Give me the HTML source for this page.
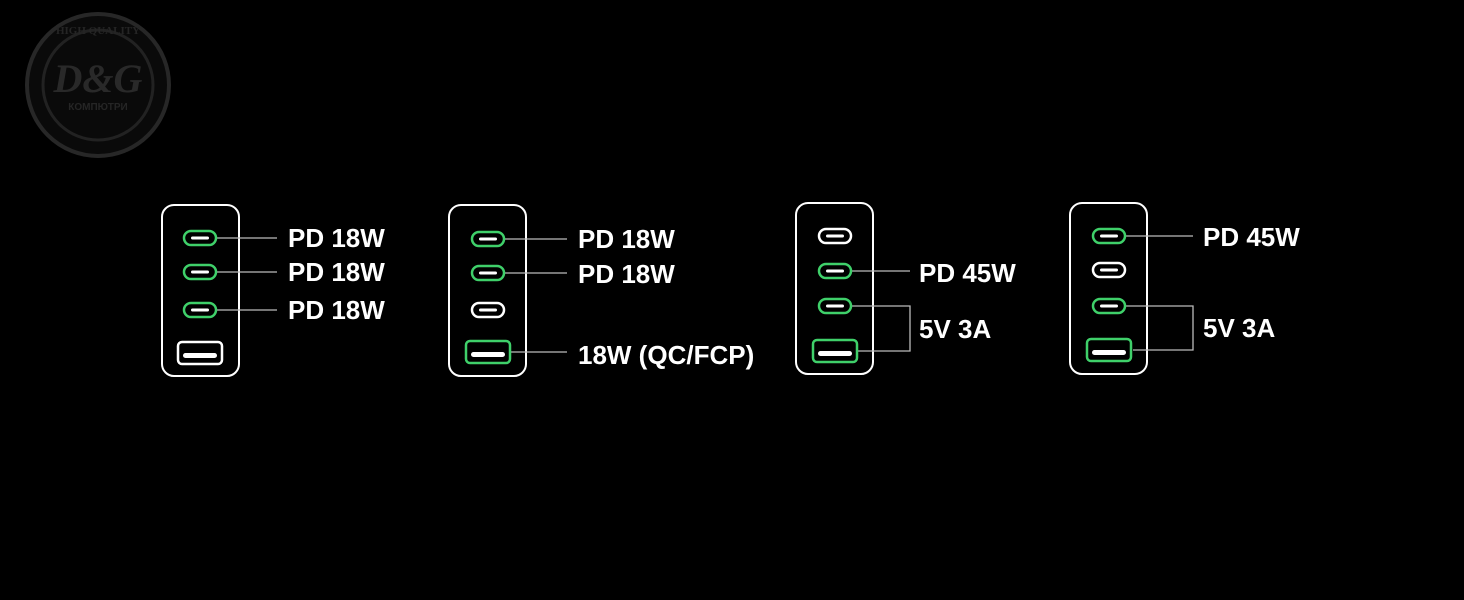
<!DOCTYPE html>
<html><head><meta charset="utf-8"><style>
html,body{margin:0;padding:0;background:#000;}
svg{display:block;}
text{font-family:"Liberation Sans",sans-serif;font-weight:bold;fill:#fff;font-size:26px;}
</style></head><body>
<svg width="1464" height="600" viewBox="0 0 1464 600" xmlns="http://www.w3.org/2000/svg">
<defs>
<g id="cg"><rect x="-16" y="-7" width="32" height="14" rx="7" fill="none" stroke="#3fd06a" stroke-width="2.5"/><rect x="-9" y="-1.5" width="18" height="3" rx="1.5" fill="#fff"/></g>
<g id="cw"><rect x="-16" y="-7" width="32" height="14" rx="7" fill="none" stroke="#fff" stroke-width="2.5"/><rect x="-9" y="-1.5" width="18" height="3" rx="1.5" fill="#fff"/></g>
<g id="ag"><rect x="-22" y="-11" width="44" height="22" rx="4" fill="none" stroke="#3fd06a" stroke-width="2.5"/><rect x="-17" y="0" width="34" height="5" rx="2.5" fill="#fff"/></g>
<g id="aw"><rect x="-22" y="-11" width="44" height="22" rx="4" fill="none" stroke="#fff" stroke-width="2.5"/><rect x="-17" y="0" width="34" height="5" rx="2.5" fill="#fff"/></g>
</defs>
<!-- logo -->
<g opacity="0.9">
<circle cx="98" cy="85" r="71" fill="#0c0c0c" stroke="#2c2c2c" stroke-width="4"/>
<circle cx="98" cy="85" r="55" fill="none" stroke="#262626" stroke-width="3"/>
<text x="98" y="92" text-anchor="middle" style="font-family:'Liberation Serif',serif;font-style:italic;font-size:40px;fill:#2e2e2e">D&amp;G</text>
<text x="98" y="110" text-anchor="middle" style="font-size:10px;fill:#2a2a2a">КОМПЮТРИ</text>
<text x="98" y="34" text-anchor="middle" style="font-family:'Liberation Serif',serif;font-size:11px;fill:#2a2a2a">HIGH QUALITY</text>
</g>
<g fill="none" stroke="#fff" stroke-width="2">
<rect x="162" y="205" width="77" height="171" rx="12"/>
<rect x="449" y="205" width="77" height="171" rx="12"/>
<rect x="796" y="203" width="77" height="171" rx="12"/>
<rect x="1070" y="203" width="77" height="171" rx="12"/>
</g>
<g fill="none" stroke="#bbb" stroke-width="1.3">
<path d="M217 238H277M217 272H277M217 310H277"/>
<path d="M504 239H567M504 273H567M511 352H567"/>
<path d="M852 271H910M852 306H910V351H858"/>
<path d="M1126 236H1193M1126 306H1193V350H1133"/>
</g>
<use href="#cg" x="200" y="238"/><use href="#cg" x="200" y="272"/><use href="#cg" x="200" y="310"/><use href="#aw" x="200" y="353"/>
<use href="#cg" x="488" y="239"/><use href="#cg" x="488" y="273"/><use href="#cw" x="488" y="310"/><use href="#ag" x="488" y="352"/>
<use href="#cw" x="835" y="236"/><use href="#cg" x="835" y="271"/><use href="#cg" x="835" y="306"/><use href="#ag" x="835" y="351"/>
<use href="#cg" x="1109" y="236"/><use href="#cw" x="1109" y="270"/><use href="#cg" x="1109" y="306"/><use href="#ag" x="1109" y="350"/>
<text x="288" y="247">PD 18W</text>
<text x="288" y="281">PD 18W</text>
<text x="288" y="319">PD 18W</text>
<text x="578" y="248">PD 18W</text>
<text x="578" y="283">PD 18W</text>
<text x="578" y="364">18W (QC/FCP)</text>
<text x="919" y="282">PD 45W</text>
<text x="919" y="338">5V 3A</text>
<text x="1203" y="246">PD 45W</text>
<text x="1203" y="337">5V 3A</text>
</svg>
</body></html>
